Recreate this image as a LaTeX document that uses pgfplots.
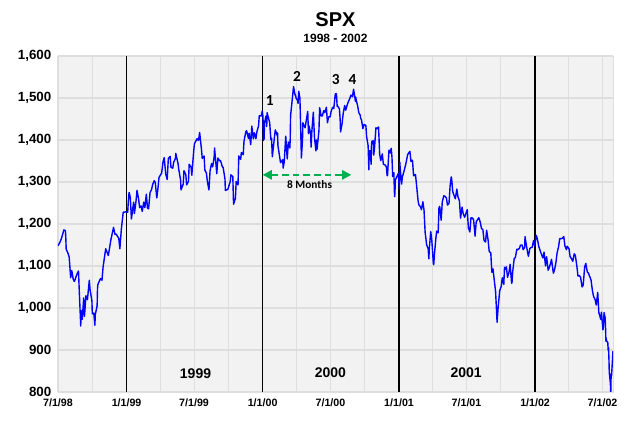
\documentclass[border=0pt]{standalone}
\usepackage{pgfplots}
\pgfplotsset{compat=1.18}
\usepackage{fontspec}
\setmainfont{Liberation Sans}
\newfontfamily\calib{Carlito}
\usetikzlibrary{arrows.meta,calc}
\definecolor{bg}{HTML}{F2F2F2}
\definecolor{gridc}{HTML}{DEDEDE}
\definecolor{agreen}{HTML}{00B050}
\begin{document}
\begin{tikzpicture}
\begin{axis}[
 scale only axis, width=416.25pt, height=252pt,
 xmin=0, xmax=1489, ymin=800, ymax=1600,
 axis background/.style={fill=bg},
 axis line style={draw=gridc},
 xtick={0,184,365,549,731,915,1096,1280,1461},
 xticklabels={7/1/98,1/1/99,7/1/99,1/1/00,7/1/00,1/1/01,7/1/01,1/1/02,7/1/02},
 minor xtick={92,274,457,640,823,1005,1188,1370},
 ytick={800,900,1000,1100,1200,1300,1400,1500,1600},
 yticklabels={800,900,{1,000},{1,100},{1,200},{1,300},{1,400},{1,500},{1,600}},
 xmajorgrids, xminorgrids, ymajorgrids,
 grid style={gridc, line width=0.8pt},
 minor grid style={gridc, line width=0.8pt},
 major tick length=0pt, minor tick length=0pt,
 tick style={draw=none},
 xticklabel style={font=\bfseries\fontsize{8}{9}\selectfont, yshift=-1.5pt},
 yticklabel style={font=\bfseries\fontsize{10}{11}\selectfont, xshift=-1.5pt},
]
\coordinate (sw) at (rel axis cs:0,0);
\coordinate (ne) at (rel axis cs:1,1);
\addplot[black, line width=1pt] coordinates {(184,800) (184,1600)};
\addplot[black, line width=1pt] coordinates {(549,800) (549,1600)};
\addplot[black, line width=1pt] coordinates {(915,800) (915,1600)};
\addplot[black, line width=1pt] coordinates {(1280,800) (1280,1600)};
\addplot[blue, line width=1.05pt, line join=round] table {
x y
0 1148
6 1158
9 1165
16 1186
20 1184
21 1165
22 1140
27 1130
30 1121
34 1072
37 1089
41 1068
44 1063
51 1081
55 1088
57 1042
61 957
62 994
65 973
69 1024
71 980
75 1029
79 1020
84 1066
86 1044
91 1017
92 986
96 988
99 959
100 984
105 1005
106 1047
107 1056
114 1070
118 1066
121 1098
128 1141
135 1125
142 1163
149 1192
153 1175
156 1176
163 1166
166 1141
170 1188
175 1228
183 1229
187 1228
188 1244
190 1270
191 1275
194 1263
197 1212
203 1252
205 1225
209 1252
212 1280
216 1261
219 1239
223 1243
226 1230
230 1252
233 1239
237 1271
240 1238
243 1236
247 1275
251 1282
254 1294
258 1303
261 1299
265 1262
268 1283
271 1311
278 1321
282 1349
285 1358
289 1319
293 1306
296 1356
301 1361
303 1335
308 1333
310 1346
315 1356
316 1368
322 1344
324 1330
329 1304
330 1281
336 1295
338 1327
343 1317
345 1293
350 1301
352 1342
357 1336
359 1316
364 1373
366 1391
373 1403
377 1399
380 1418
385 1377
387 1356
392 1362
394 1328
398 1322
401 1300
405 1281
408 1327
412 1344
415 1336
419 1360
420 1381
426 1320
429 1357
434 1350
436 1351
441 1336
443 1335
448 1307
449 1280
455 1282
456 1283
462 1301
464 1317
469 1313
471 1247
476 1261
478 1301
483 1293
485 1362
490 1354
492 1370
497 1365
499 1397
504 1420
506 1422
511 1404
513 1416
517 1389
520 1433
524 1403
527 1417
531 1403
534 1421
538 1433
540 1458
545 1457
548 1469
550 1455
551 1399
553 1403
554 1441
558 1457
560 1432
561 1465
568 1441
571 1401
573 1404
575 1360
581 1409
583 1424
588 1411
589 1417
590 1387
597 1346
603 1353
604 1333
607 1348
609 1379
611 1409
615 1355
618 1395
622 1381
623 1402
624 1458
632 1527
636 1507
637 1508
639 1499
643 1494
644 1487
646 1516
649 1500
650 1467
653 1357
656 1401
657 1441
660 1434
663 1429
667 1452
670 1468
672 1415
674 1433
678 1412
679 1383
681 1420
685 1466
688 1407
692 1374
693 1400
695 1378
700 1421
702 1477
706 1457
709 1457
713 1470
716 1465
720 1478
723 1441
726 1455
730 1455
733 1469
737 1478
740 1475
744 1510
747 1510
749 1480
751 1480
755 1474
757 1449
758 1419
762 1438
765 1462
769 1482
772 1471
776 1484
779 1491
783 1499
786 1507
790 1503
793 1521
798 1492
799 1502
800 1495
804 1481
807 1465
811 1459
812 1451
814 1449
818 1427
821 1437
824 1436
826 1434
828 1408
832 1387
834 1329
835 1374
838 1374
840 1342
841 1388
842 1397
846 1398
847 1364
849 1379
853 1429
856 1427
860 1431
863 1366
866 1351
870 1367
873 1342
877 1341
881 1336
883 1315
884 1315
888 1376
891 1369
894 1380
896 1359
898 1313
901 1322
903 1265
904 1274
905 1305
913 1320
916 1283
917 1347
918 1333
922 1295
924 1313
926 1318
933 1342
938 1365
944 1373
945 1366
947 1349
951 1352
954 1315
959 1318
961 1301
966 1256
968 1246
973 1240
975 1234
979 1253
982 1233
985 1180
987 1166
989 1150
993 1142
995 1117
996 1139
1000 1182
1003 1160
1007 1106
1008 1103
1010 1128
1014 1168
1016 1183
1020 1179
1022 1238
1024 1242
1028 1209
1031 1253
1035 1267
1038 1266
1042 1262
1045 1245
1049 1249
1052 1291
1055 1312
1056 1309
1059 1277
1063 1267
1066 1260
1070 1283
1073 1265
1077 1255
1080 1214
1084 1240
1087 1225
1091 1216
1094 1224
1098 1234
1101 1191
1105 1181
1108 1215
1112 1214
1115 1210
1119 1171
1122 1205
1126 1211
1129 1215
1133 1204
1136 1190
1140 1186
1143 1161
1147 1157
1150 1185
1154 1161
1157 1134
1161 1132
1164 1085
1167 1093
1174 1039
1177 985
1178 966
1181 1003
1185 1041
1189 1051
1192 1072
1196 1056
1198 1097
1199 1091
1203 1098
1206 1073
1210 1085
1213 1104
1217 1059
1218 1060
1220 1087
1224 1118
1227 1120
1231 1140
1234 1139
1238 1142
1241 1150
1245 1150
1248 1139
1252 1144
1253 1170
1255 1158
1259 1137
1262 1123
1266 1142
1269 1144
1272 1144
1276 1161
1279 1148
1283 1173
1286 1165
1290 1146
1293 1138
1297 1128
1301 1119
1304 1133
1308 1100
1309 1113
1311 1122
1315 1090
1318 1096
1322 1108
1324 1116
1329 1083
1332 1090
1336 1109
1339 1131
1343 1146
1346 1165
1350 1165
1353 1166
1357 1170
1360 1148
1364 1139
1366 1147
1371 1141
1374 1122
1378 1117
1381 1111
1385 1129
1388 1125
1392 1100
1395 1076
1399 1077
1402 1073
1406 1050
1409 1054
1413 1098
1416 1106
1420 1086
1423 1083
1427 1074
1430 1067
1434 1040
1437 1027
1441 1020
1444 1007
1448 1037
1451 989
1455 977
1456 973
1458 990
1462 948
1463 953
1465 989
1468 976
1469 952
1470 921
1471 927
1472 921
1475 918
1476 900
1477 906
1478 882
1479 847
1482 820
1483 797
1484 843
1485 838
1486 852
1489 898
};
\draw[agreen, line width=1.6pt, dash pattern=on 5pt off 3pt, {Triangle[length=7pt,width=7pt]}-{Triangle[length=7pt,width=7pt]}] (axis cs:549,1317) -- (axis cs:787,1317);
\node[font=\calib\bfseries\fontsize{8.5}{10}\selectfont] at (axis cs:675,1293) {8 Months};
\node[font=\calib\bfseries\fontsize{11.5}{13}\selectfont] at (axis cs:568,1495) {1};
\node[font=\calib\bfseries\fontsize{11.5}{13}\selectfont] at (axis cs:641,1552) {2};
\node[font=\calib\bfseries\fontsize{11.5}{13}\selectfont] at (axis cs:745,1543) {3};
\node[font=\calib\bfseries\fontsize{11.5}{13}\selectfont] at (axis cs:790,1543) {4};
\node[font=\bfseries\fontsize{10.5}{12}\selectfont] at (axis cs:369,843) {1999};
\node[font=\bfseries\fontsize{10.5}{12}\selectfont] at (axis cs:731,845) {2000};
\node[font=\bfseries\fontsize{10.5}{12}\selectfont] at (axis cs:1095,845) {2001};
\end{axis}
\path let \p1=(sw), \p2=(ne) in node[font=\bfseries\fontsize{15}{17}\selectfont] at ({(\x1+\x2)/2},{\y2+27pt}) {SPX};
\path let \p1=(sw), \p2=(ne) in node[font=\bfseries\fontsize{9}{11}\selectfont] at ({(\x1+\x2)/2},{\y2+13.5pt}) {1998 - 2002};
\pgfresetboundingbox
\path (sw) ++(-43.5pt,-26.25pt) coordinate (bl);
\path (ne) ++(20.25pt,42pt) coordinate (tr);
\path (bl) rectangle (tr);
\end{tikzpicture}
\end{document}
